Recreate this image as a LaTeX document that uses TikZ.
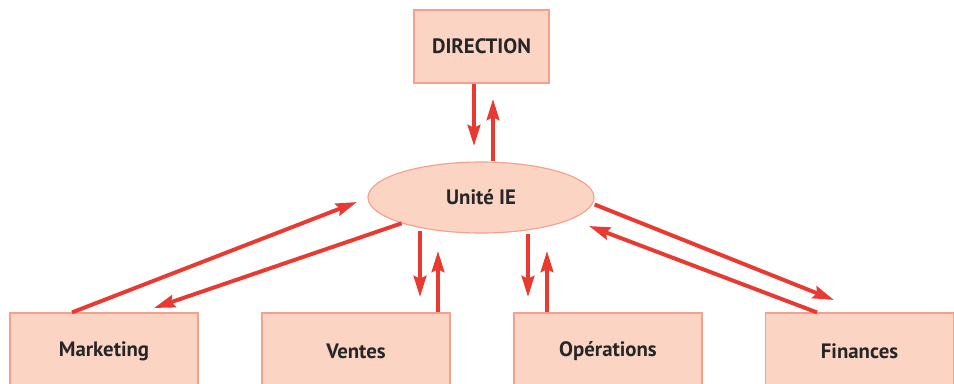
\documentclass[tikz,border=0pt]{standalone}
\usepackage{fontspec}
\setmainfont{PT Sans}
\usetikzlibrary{arrows.meta,shapes.geometric}
\definecolor{boxfill}{HTML}{FBD4C4}
\definecolor{boxline}{HTML}{F4A08A}
\definecolor{flowred}{HTML}{E83A30}
\definecolor{txt}{HTML}{262626}
\tikzset{
  dept/.style={draw=boxline,fill=boxfill,line width=0.8pt,text=txt,
    font=\fontsize{14.8}{17}\selectfont\bfseries},
  flow/.style={draw=flowred,line width=2.8pt,
    -{Stealth[length=15pt,width=9pt,inset=2pt]}}
}
\begin{document}
\begin{tikzpicture}[x=0.025cm,y=-0.025cm]
			\useasboundingbox (0,0) rectangle (954,383);
			\node[dept,minimum width=3.375cm,minimum height=1.825cm] (dir) at (481.5,46.5) {DIRECTION};
			\node[dept,ellipse,inner sep=0pt,minimum width=5.65cm,minimum height=1.775cm] (ie) at (481,197.5) {Unité IE};
			\node[dept,minimum width=4.7cm,minimum height=1.9cm] (mkt) at (104,351) {Marketing};
			\node[dept,minimum width=4.7cm,minimum height=1.9cm] (ven) at (356,351) {Ventes};
			\node[dept,minimum width=4.7cm,minimum height=1.9cm] (ope) at (608,351) {Opérations};
			\node[dept,minimum width=4.7cm,minimum height=1.9cm] (fin) at (859.5,351) {Finances};
			% free ends of the arrows
			\coordinate (dir-in) at (474,146);
			\coordinate (dir-out) at (493,99);
			\coordinate (mkt-in) at (154,308);
			\coordinate (mkt-out) at (357,202);
			\coordinate (ven-in) at (420,297);
			\coordinate (ven-out) at (438,251);
			\coordinate (ope-in) at (528,297);
			\coordinate (ope-out) at (547,251);
			\coordinate (fin-in) at (834,300);
			\coordinate (fin-out) at (589,226);
			% direction
			\draw[flow] (dir.south -| dir-in) -- (dir-in);
			\draw[flow] (ie.north -| dir-out) -- (dir-out);
			% services
			\draw[flow] (mkt.north -| 72,0) -- (mkt-out);
			\draw[flow] (ie.198) -- (mkt-in);
			\draw[flow] (ie.south -| ven-in) ++(0,-3) -- (ven-in);
			\draw[flow] (ven.north -| ven-out) -- (ven-out);
			\draw[flow] (ie.south -| ope-in) -- (ope-in);
			\draw[flow] (ope.north -| ope-out) -- (ope-out);
			\draw[flow] (ie.east) ++(0,7) -- (fin-in);
			\draw[flow] (fin.north -| 817,0) -- (fin-out);
		\end{tikzpicture}
\end{document}
